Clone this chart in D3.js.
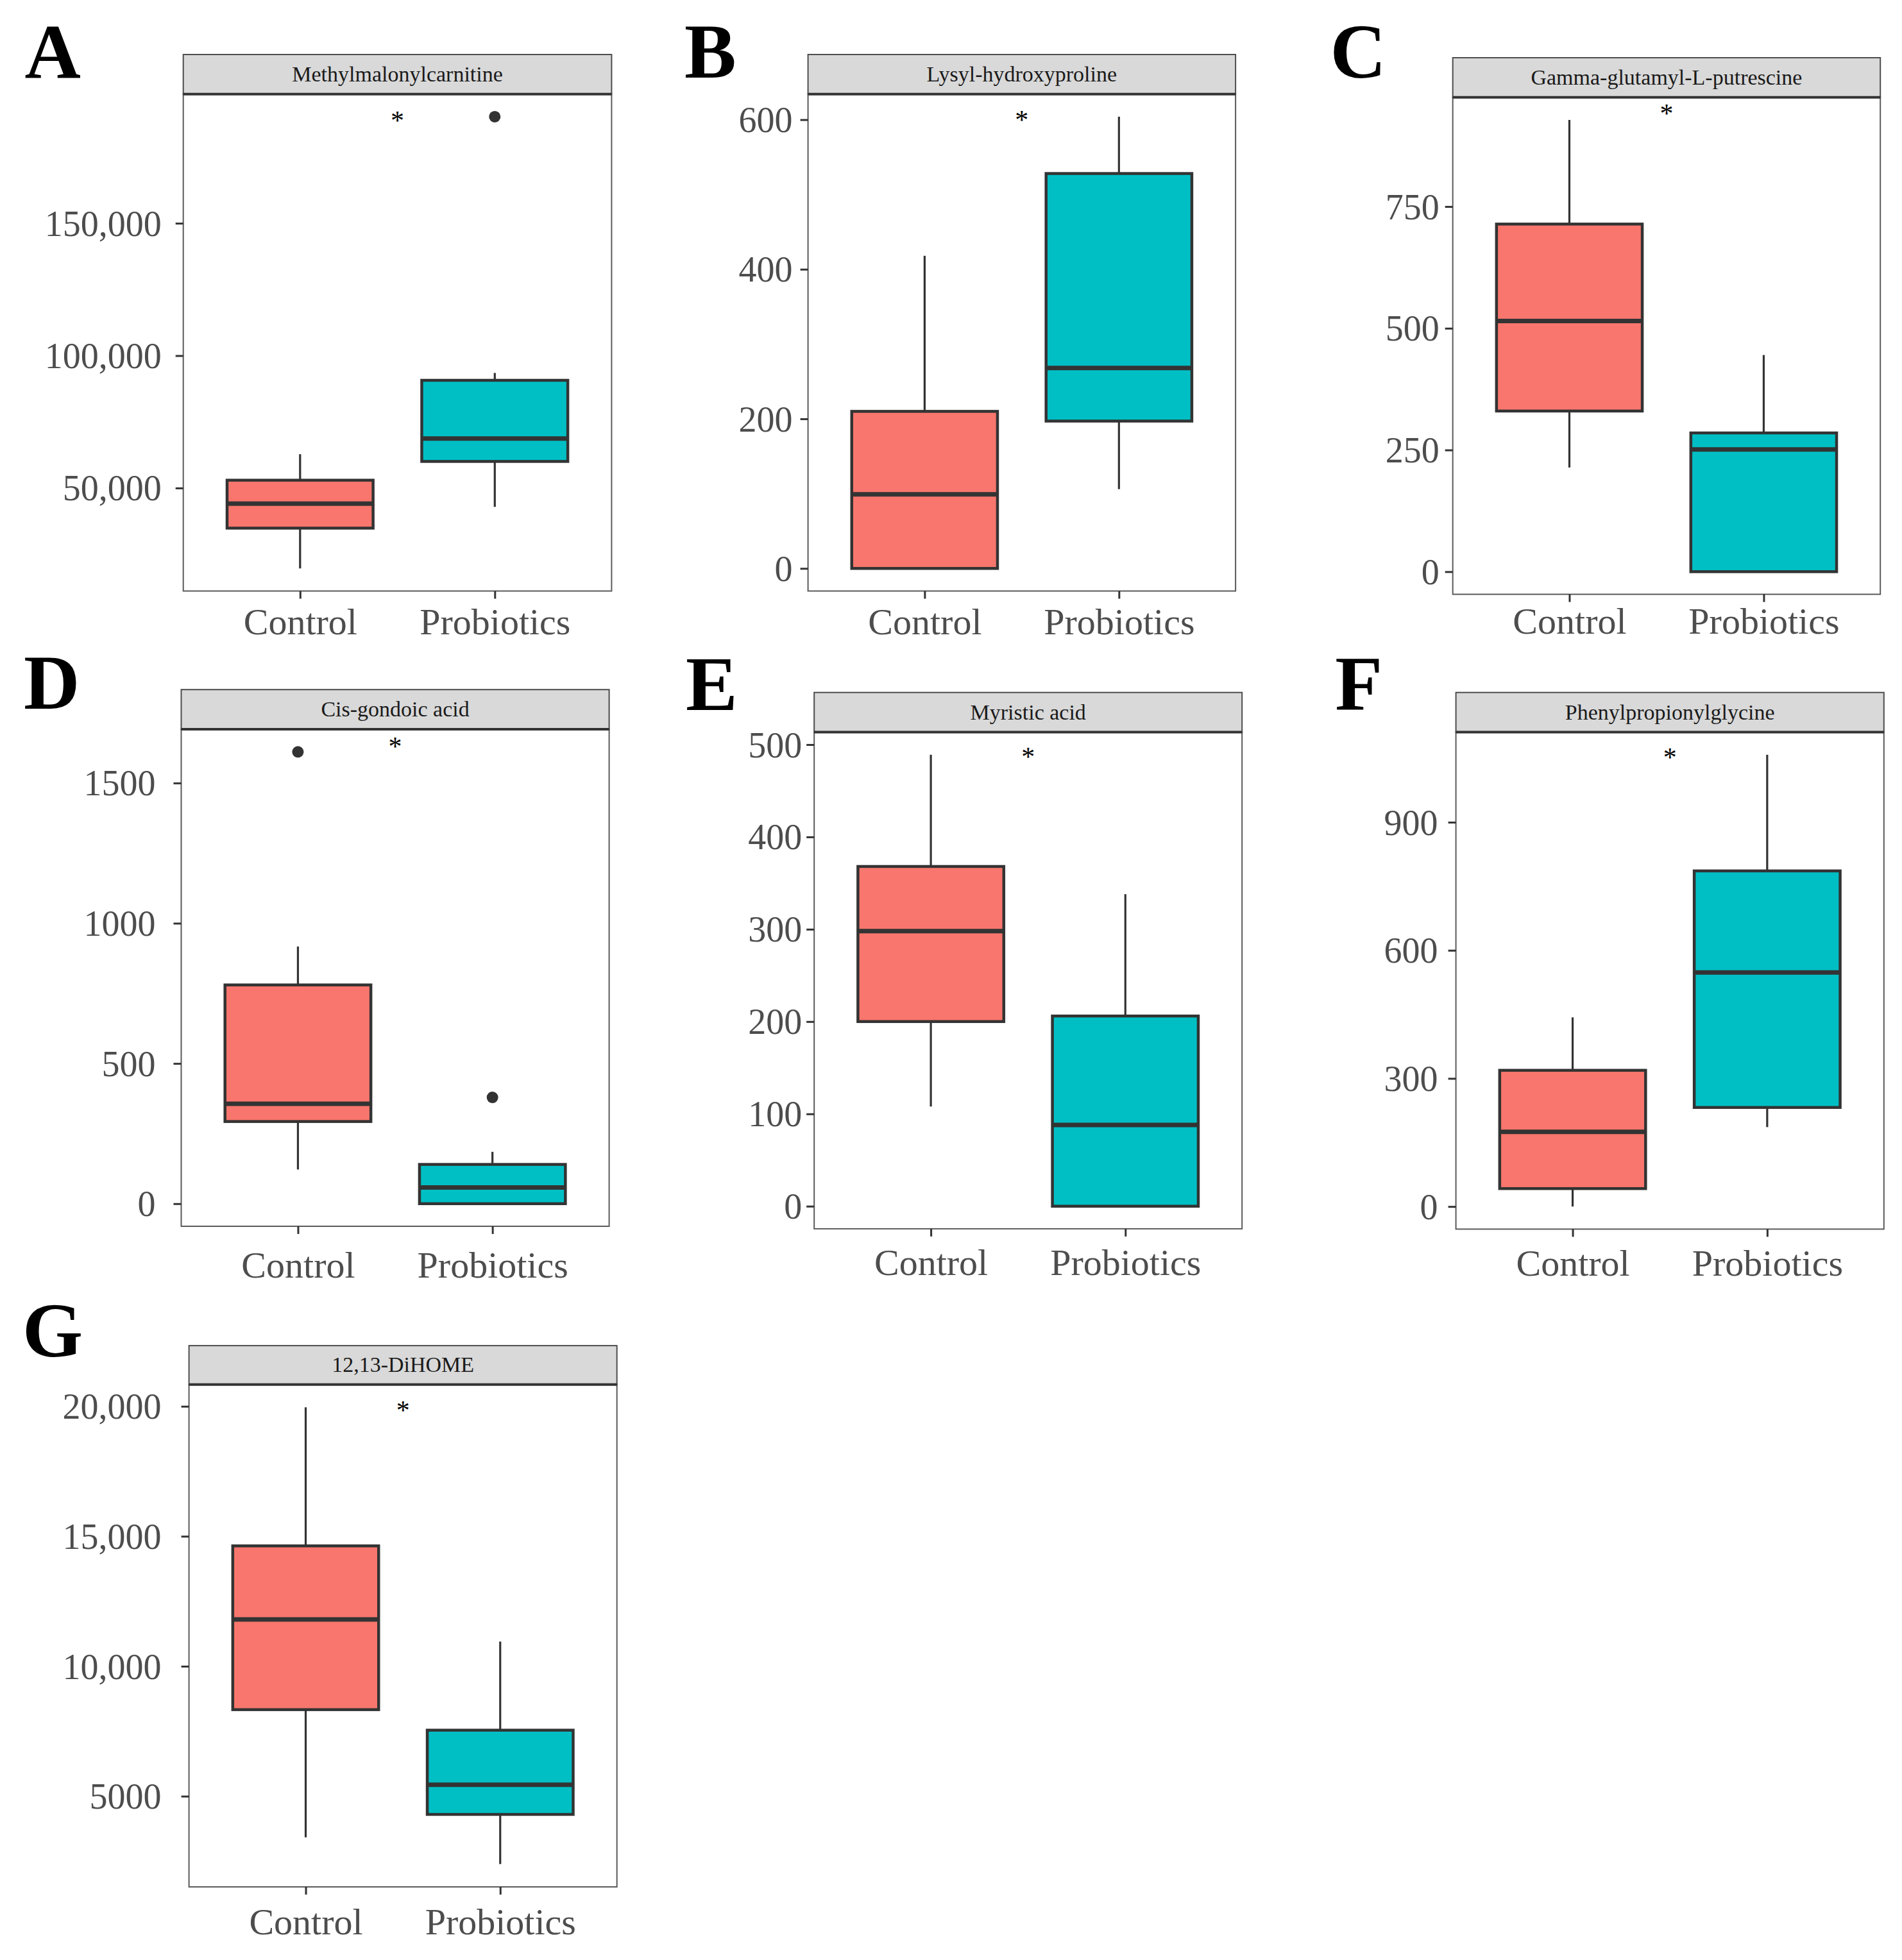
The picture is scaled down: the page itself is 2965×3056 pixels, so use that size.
<!DOCTYPE html>
<html>
<head>
<meta charset="utf-8">
<script src="https://cdn.jsdelivr.net/npm/d3@7"></script>
<style>
  html, body { margin: 0; padding: 0; background: #ffffff; }
  svg { display: block; }
</style>
</head>
<body>
<script>
// ---------------- DATA ----------------
const categories = ["Control", "Probiotics"];
const metabolites = ["Methylmalonylcarnitine", "Lysyl-hydroxyproline", "Gamma-glutamyl-L-putrescine",
  "Cis-gondoic acid", "Myristic acid", "Phenylpropionylglycine", "12,13-DiHOME"];
const panelLetters = ["A", "B", "C", "D", "E", "F", "G"];

// [lower whisker, Q1, median, Q3, upper whisker]
const controlStats = [
  [19630, 34850, 44080, 52950, 62780],
  [0, 0, 99, 210, 418],
  [214, 330, 515, 714, 928],
  [122, 293, 356, 780, 917],
  [108, 200, 298, 368, 489],
  [0, 42, 175, 319, 443],
  [3420, 8330, 11800, 14630, 19960]
];
const probioticsStats = [
  [42880, 60040, 68700, 90680, 93460],
  [106, 197, 268, 528, 604],
  [0, 0, 251, 285, 445],
  [0, 0, 58, 140, 185],
  [0, 0, 88, 206, 338],
  [186, 232, 548, 786, 1058],
  [2390, 4300, 5440, 7540, 10950]
];
const controlOutliers = [[], [], [], [1611], [], [], []];
const probioticsOutliers = [[190250], [], [], [379], [], [], []];
const starLabels = ["*", "*", "*", "*", "*", "*", "*"];
const starY = [190250, 605, 949, 1643, 491, 1061, 20000];

const tickValues = [
  [50000, 100000, 150000],
  [0, 200, 400, 600],
  [0, 250, 500, 750],
  [0, 500, 1000, 1500],
  [0, 100, 200, 300, 400, 500],
  [0, 300, 600, 900],
  [5000, 10000, 15000, 20000]
];
const tickLabels = [
  ["50,000", "100,000", "150,000"],
  ["0", "200", "400", "600"],
  ["0", "250", "500", "750"],
  ["0", "500", "1000", "1500"],
  ["0", "100", "200", "300", "400", "500"],
  ["0", "300", "600", "900"],
  ["5000", "10,000", "15,000", "20,000"]
];

// ---------------- LAYOUT ----------------
const W = 2965, H = 3056;
const layout = [
  {left: 285.7,  right: 953.4,  stripTop: 85,     plotTop: 146.7,  plotBottom: 921.5,  letterX: 38.6,   letterY: 121.2,  yPad: 22, xBase: 988.5},
  {left: 1259.6, right: 1926.1, stripTop: 85,     plotTop: 146.7,  plotBottom: 921.5,  letterX: 1066.9, letterY: 121.2,  yPad: 12, xBase: 988.5},
  {left: 2264.7, right: 2931.2, stripTop: 90,     plotTop: 151.7,  plotBottom: 926.6,  letterX: 2073.4, letterY: 121.2,  yPad: 9,  xBase: 988.5},
  {left: 282.5,  right: 949.6,  stripTop: 1075.2, plotTop: 1137.1, plotBottom: 1912,   letterX: 37,     letterY: 1105.3, yPad: 28, xBase: 1991.5},
  {left: 1269.2, right: 1936.2, stripTop: 1079.7, plotTop: 1141.6, plotBottom: 1915.9, letterX: 1068.9, letterY: 1106.8, yPad: 7,  xBase: 1988.5},
  {left: 2269.6, right: 2936.8, stripTop: 1079.7, plotTop: 1141.6, plotBottom: 1916.4, letterX: 2081.3, letterY: 1106.8, yPad: 16, xBase: 1989.5},
  {left: 294.6,  right: 961.7,  stripTop: 2098.1, plotTop: 2158.7, plotBottom: 2942,   letterX: 35.1,   letterY: 2115,   yPad: 31, xBase: 3016}
];
const fills = {Control: "#F8766D", Probiotics: "#00BFC4"};
const serif = "'Liberation Serif', 'Times New Roman', serif";

const svg = d3.select("body").append("svg")
  .attr("width", W).attr("height", H)
  .attr("viewBox", `0 0 ${W} ${H}`);
svg.append("rect").attr("width", W).attr("height", H).attr("fill", "#ffffff");

metabolites.forEach((name, i) => {
  const L = layout[i];
  const g = svg.append("g").attr("class", "panel-" + panelLetters[i]);

  const groups = [
    {cat: categories[0], s: controlStats[i], out: controlOutliers[i]},
    {cat: categories[1], s: probioticsStats[i], out: probioticsOutliers[i]}
  ];
  const allVals = groups.flatMap(d => d.s.concat(d.out));
  const lo = d3.min(allVals), hi = d3.max(allVals);
  const pad = (hi - lo) * 0.05;

  const y = d3.scaleLinear().domain([lo - pad, hi + pad]).range([L.plotBottom, L.plotTop]);
  const x = d3.scalePoint().domain(categories).range([L.left, L.right]).padding(0.6);
  const halfW = x.step() * 0.375;

  // panel background
  g.append("rect").attr("x", L.left).attr("y", L.plotTop)
    .attr("width", L.right - L.left).attr("height", L.plotBottom - L.plotTop)
    .attr("fill", "#ffffff");

  // whiskers
  groups.forEach(d => {
    const cx = x(d.cat);
    g.append("line").attr("x1", cx).attr("x2", cx)
      .attr("y1", y(d.s[4])).attr("y2", y(d.s[3]))
      .attr("stroke", "#333333").attr("stroke-width", 3.2);
    g.append("line").attr("x1", cx).attr("x2", cx)
      .attr("y1", y(d.s[1])).attr("y2", y(d.s[0]))
      .attr("stroke", "#333333").attr("stroke-width", 3.2);
  });

  // boxes
  g.selectAll("rect.box").data(groups).enter().append("rect")
    .attr("class", "box")
    .attr("x", d => x(d.cat) - halfW)
    .attr("y", d => y(d.s[3]))
    .attr("width", halfW * 2)
    .attr("height", d => y(d.s[1]) - y(d.s[3]))
    .attr("fill", d => fills[d.cat])
    .attr("stroke", "#333333").attr("stroke-width", 4.5);

  // medians
  g.selectAll("line.median").data(groups).enter().append("line")
    .attr("class", "median")
    .attr("x1", d => x(d.cat) - halfW).attr("x2", d => x(d.cat) + halfW)
    .attr("y1", d => y(d.s[2])).attr("y2", d => y(d.s[2]))
    .attr("stroke", "#333333").attr("stroke-width", 7);

  // outliers
  groups.forEach(d => {
    g.selectAll(null).data(d.out).enter().append("circle")
      .attr("cx", x(d.cat)).attr("cy", v => y(v)).attr("r", 9)
      .attr("fill", "#333333");
  });

  // significance star (glyph centred on the value)
  g.append("text")
    .attr("x", (x(categories[0]) + x(categories[1])) / 2)
    .attr("y", y(starY[i]) + 20)
    .attr("text-anchor", "middle")
    .attr("font-family", serif).attr("font-size", 42)
    .attr("fill", "#000000")
    .text(starLabels[i]);

  // panel border
  g.append("rect").attr("x", L.left).attr("y", L.plotTop)
    .attr("width", L.right - L.left).attr("height", L.plotBottom - L.plotTop)
    .attr("fill", "none").attr("stroke", "#5a5a5a").attr("stroke-width", 2);

  // strip
  g.append("rect").attr("x", L.left).attr("y", L.stripTop)
    .attr("width", L.right - L.left).attr("height", L.plotTop - L.stripTop)
    .attr("fill", "#D9D9D9").attr("stroke", "#4d4d4d").attr("stroke-width", 2);
  g.append("line").attr("x1", L.left).attr("x2", L.right)
    .attr("y1", L.plotTop).attr("y2", L.plotTop)
    .attr("stroke", "#333333").attr("stroke-width", 4);
  g.append("text")
    .attr("x", (L.left + L.right) / 2)
    .attr("y", (L.stripTop + L.plotTop) / 2 + 11)
    .attr("text-anchor", "middle")
    .attr("font-family", serif).attr("font-size", 34)
    .attr("fill", "#1a1a1a")
    .text(name);

  // y axis
  const yAxis = d3.axisLeft(y)
    .tickValues(tickValues[i])
    .tickFormat((v, k) => tickLabels[i][k])
    .tickSize(12).tickPadding(L.yPad);
  const ga = g.append("g").attr("transform", `translate(${L.left},0)`).call(yAxis);
  ga.select(".domain").remove();
  ga.selectAll(".tick line").attr("stroke", "#333333").attr("stroke-width", 3);
  ga.selectAll(".tick text")
    .attr("font-family", serif).attr("font-size", 56)
    .attr("fill", "#4D4D4D").attr("dy", "0.34em");

  // x axis
  const xAxis = d3.axisBottom(x).tickSize(12).tickPadding(0);
  const gx = g.append("g").attr("transform", `translate(0,${L.plotBottom})`).call(xAxis);
  gx.select(".domain").remove();
  gx.selectAll(".tick line").attr("stroke", "#333333").attr("stroke-width", 3);
  gx.selectAll(".tick text")
    .attr("font-family", serif).attr("font-size", 58)
    .attr("fill", "#4D4D4D")
    .attr("y", L.xBase - L.plotBottom).attr("dy", 0);

  // panel letter
  svg.append("text")
    .attr("x", L.letterX).attr("y", L.letterY)
    .attr("font-family", serif).attr("font-weight", "bold")
    .attr("font-size", 121).attr("fill", "#000000")
    .text(panelLetters[i]);
});
</script>
</body>
</html>
